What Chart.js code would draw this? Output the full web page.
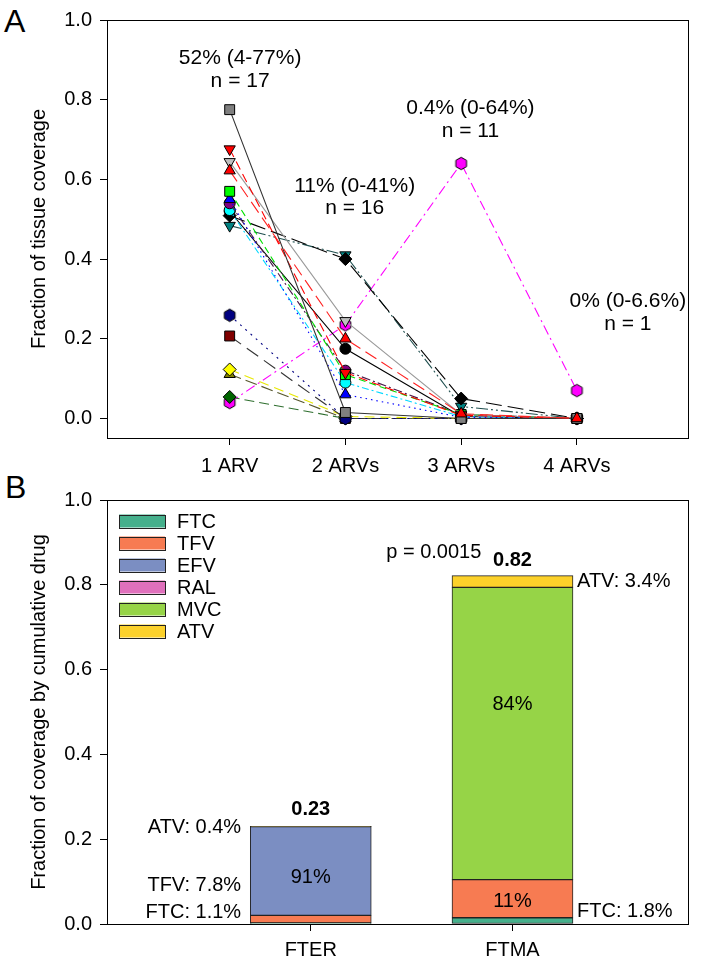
<!DOCTYPE html>
<html>
<head>
<meta charset="utf-8">
<title>ARV tissue coverage</title>
<script src="https://cdn.jsdelivr.net/npm/chart.js@4.4.0/dist/chart.umd.min.js"></script>
<style>
    body { margin: 0; background: #fff; font-family: 'Liberation Sans', Arial, sans-serif; }
    .panel { position: absolute; left: 0; width: 720px; }
    .letter { position: absolute; font-size: 32px; color: #000; line-height: 1; }
</style>
</head>
<body>
<div class="letter" style="left:4px; top:5px;">A</div>
<div class="letter" style="left:5px; top:471px;">B</div>
<div class="panel" style="top:0; height:480px;"><canvas id="chartA" width="720" height="480"></canvas></div>
<div class="panel" style="top:480px; height:482px;"><canvas id="chartB" width="720" height="482"></canvas></div>

<script>
// ---- Panel A data ----
const arvLabels = ['1 ARV', '2 ARVs', '3 ARVs', '4 ARVs'];
const arvPos = [1, 2, 3, 4];
const yTicksA = [0, 0.2, 0.4, 0.6, 0.8, 1.0];

const grayBox      = [0.775, 0.015, 0.0, 0.0];
const redDown      = [0.676, 0.115, 0.008, 0.0];
const grayDown     = [0.644, 0.245, 0.01, 0.0];
const redUp        = [0.622, 0.200, 0.012, 0.0];
const greenBox     = [0.570, 0.110, 0.01, 0.0];
const blueUp       = [0.550, 0.060, 0.003, 0.0];
const purpleDot    = [0.540, 0.120, 0.01, 0.0];
const cyanDot      = [0.523, 0.090, 0.005, 0.0];
const blackDot     = [0.520, 0.175, 0.005, 0.0];
const blackDiamond = [0.509, 0.400, 0.05, 0.0];
const tealDown     = [0.484, 0.410, 0.03, 0.0];
const navyHex      = [0.259, 0.0, 0.0, 0.0];
const maroonBox    = [0.207, 0.0, 0.0, 0.0];
const yellowDiamond = [0.123, 0.005, 0.0, 0.0];
const oliveUp      = [0.111, 0.0, 0.0, 0.0];
const greenDiamond = [0.054, 0.0, 0.0, 0.0];
const magentaHex   = [0.040, 0.235, 0.64, 0.07];

const notesA = [
    { text: '52% (4-77%)', x: 1.09, y: 0.904 },
    { text: 'n = 17', x: 1.09, y: 0.847 },
    { text: '11% (0-41%)', x: 2.08, y: 0.583 },
    { text: 'n = 16', x: 2.08, y: 0.527 },
    { text: '0.4% (0-64%)', x: 3.08, y: 0.778 },
    { text: 'n = 11', x: 3.08, y: 0.721 },
    { text: '0% (0-6.6%)', x: 4.44, y: 0.294 },
    { text: 'n = 1', x: 4.44, y: 0.237 }
];

// ---- Panel B data ----
const groupLabels = ['FTER', 'FTMA'];
const groupPos = [1, 2];
const drugNames = ['FTC', 'TFV', 'EFV', 'RAL', 'MVC', 'ATV'];
const ftcVals = [0.0025, 0.0148];
const tfvVals = [0.018, 0.090];
const efvVals = [0.209, 0.0];
const ralVals = [0.0, 0.0];
const mvcVals = [0.0, 0.689];
const atvVals = [0.0009, 0.028];
const yTicksB = [0, 0.2, 0.4, 0.6, 0.8, 1.0];

const notesB = [
    { text: '0.23', x: 1, y: 0.269, bold: true },
    { text: '0.82', x: 2, y: 0.857, bold: true },
    { text: '91%', x: 1, y: 0.11 },
    { text: '84%', x: 2, y: 0.518 },
    { text: '11%', x: 2, y: 0.052 },
    { text: 'ATV: 3.4%', x: 2.32, y: 0.808, align: 'left' },
    { text: 'FTC: 1.8%', x: 2.32, y: 0.03, align: 'left' },
    { text: 'ATV: 0.4%', x: 0.655, y: 0.227, align: 'right' },
    { text: 'TFV: 7.8%', x: 0.655, y: 0.091, align: 'right' },
    { text: 'FTC: 1.1%', x: 0.655, y: 0.028, align: 'right' },
    { text: 'p = 0.0015', x: 1.61, y: 0.877 }
];

const FONT = "'Liberation Sans', Arial, sans-serif";
Chart.defaults.font.family = FONT;
Chart.defaults.color = '#000';

function hexMarker(fill) {
    const c = document.createElement('canvas');
    c.width = 15; c.height = 15;
    const g = c.getContext('2d');
    g.beginPath();
    for (let k = 0; k < 6; k++) {
        const a = Math.PI / 2 + k * Math.PI / 3;
        const px = 7.5 + 6.2 * Math.cos(a), py = 7.5 + 6.2 * Math.sin(a);
        if (k === 0) g.moveTo(px, py); else g.lineTo(px, py);
    }
    g.closePath();
    g.fillStyle = fill;
    g.fill();
    g.strokeStyle = '#000';
    g.lineWidth = 1;
    g.stroke();
    return c;
}

const markerSize = { rect: 7, triangle: 6.5, circle: 5.5, rectRot: 6.5, hex: 6 };

const seriesA = [
    { vals: grayBox, marker: 'rect', fill: '#7f7f7f', line: '#333333', dash: [] },
    { vals: redDown, marker: 'triangle', rot: 180, fill: '#ff0000', line: '#ff0000', dash: [9, 5] },
    { vals: grayDown, marker: 'triangle', rot: 180, fill: '#c0c0c0', line: '#9a9a9a', dash: [] },
    { vals: redUp, marker: 'triangle', fill: '#ff0000', line: '#ff2020', dash: [13, 6], top: true },
    { vals: greenBox, marker: 'rect', fill: '#00ff00', line: '#00e000', dash: [7, 4] },
    { vals: blueUp, marker: 'triangle', fill: '#0000ff', line: '#0000ff', dash: [1.5, 4] },
    { vals: purpleDot, marker: 'circle', fill: '#800080', line: '#4b1a4b', dash: [9, 3, 2, 3] },
    { vals: cyanDot, marker: 'circle', fill: '#00ffff', line: '#00d8ff', dash: [7, 3, 2, 3] },
    { vals: blackDot, marker: 'circle', fill: '#000000', line: '#000000', dash: [] },
    { vals: blackDiamond, marker: 'rectRot', fill: '#000000', line: '#000000', dash: [16, 6] },
    { vals: tealDown, marker: 'triangle', rot: 180, fill: '#008080', line: '#1f4f4f', dash: [12, 3, 2, 3, 2, 3] },
    { vals: navyHex, marker: 'hex', fill: '#000080', line: '#000080', dash: [2, 5] },
    { vals: maroonBox, marker: 'rect', fill: '#800000', line: '#333333', dash: [14, 7] },
    { vals: yellowDiamond, marker: 'rectRot', fill: '#ffff00', line: '#e8e800', dash: [10, 6] },
    { vals: oliveUp, marker: 'triangle', fill: '#808000', line: '#55552a', dash: [12, 5] },
    { vals: greenDiamond, marker: 'rectRot', fill: '#006400', line: '#2f6f2f', dash: [10, 5] },
    { vals: magentaHex, marker: 'hex', fill: '#ff00ff', line: '#ff00ff', dash: [10, 4, 2, 4] }
];

// frame round the plot area
const framePlugin = {
    id: 'frame',
    afterDraw(chart) {
        const { ctx, chartArea: a } = chart;
        ctx.save();
        ctx.strokeStyle = '#000';
        ctx.lineWidth = 1;
        ctx.strokeRect(Math.round(a.left) + 0.5, Math.round(a.top) + 0.5,
            Math.round(a.right - a.left), Math.round(a.bottom - a.top));
        ctx.restore();
    }
};

// text notes placed through the chart scales
function notesPlugin(notes, size) {
    return {
        id: 'notes',
        afterDatasetsDraw(chart) {
            const { ctx, scales } = chart;
            ctx.save();
            ctx.fillStyle = '#000';
            ctx.textBaseline = 'middle';
            notes.forEach(n => {
                ctx.font = (n.bold ? 'bold ' : '') + size + 'px ' + FONT;
                ctx.textAlign = n.align || 'center';
                ctx.fillText(n.text, scales.x.getPixelForValue(n.x), scales.y.getPixelForValue(n.y));
            });
            ctx.restore();
        }
    };
}

// legend drawn inside the plot area, top left
const boxLegend = {
    id: 'boxLegend',
    afterDraw(chart) {
        const { ctx, chartArea: a } = chart;
        ctx.save();
        ctx.font = '20px ' + FONT;
        ctx.textAlign = 'left';
        ctx.textBaseline = 'middle';
        chart.data.datasets.forEach((ds, i) => {
            const cy = a.top + 21 + i * 22;
            const bx = a.left + 12;
            ctx.fillStyle = ds.backgroundColor;
            ctx.fillRect(bx, cy - 6.5, 46, 13);
            ctx.strokeStyle = '#222';
            ctx.lineWidth = 1;
            ctx.strokeRect(bx + 0.5, Math.round(cy - 6.5) + 0.5, 46, 13);
            ctx.fillStyle = '#000';
            ctx.fillText(ds.label, bx + 58, cy + 1);
        });
        ctx.restore();
    }
};

const tickFont = { size: 20 };

new Chart(document.getElementById('chartA'), {
    type: 'line',
    data: {
        datasets: seriesA.map(s => ({
            data: arvPos.map((x, i) => ({ x: x, y: s.vals[i] })),
            order: s.top ? -1 : 0,
            borderColor: s.line,
            borderWidth: 1.1,
            borderDash: s.dash,
            pointStyle: s.marker === 'hex' ? hexMarker(s.fill) : s.marker,
            pointRotation: s.rot || 0,
            pointRadius: markerSize[s.marker],
            pointBackgroundColor: s.fill,
            pointBorderColor: '#000',
            pointBorderWidth: 1,
            tension: 0,
            fill: false
        }))
    },
    options: {
        responsive: false,
        animation: false,
        devicePixelRatio: 1,
        layout: { padding: { top: 13, right: 32, left: 0, bottom: 0 } },
        plugins: { legend: { display: false }, tooltip: { enabled: false } },
        scales: {
            x: {
                type: 'linear',
                min: -0.06,
                max: 4.96,
                afterBuildTicks: s => { s.ticks = arvPos.map(v => ({ value: v })); },
                afterFit: s => { s.height = 42; },
                ticks: {
                    font: tickFont, color: '#000', padding: 9, maxRotation: 0,
                    callback: v => arvLabels[arvPos.indexOf(v)]
                },
                grid: { drawOnChartArea: false, drawTicks: true, tickLength: 7, color: '#000' },
                border: { color: '#000', width: 1 }
            },
            y: {
                min: -0.049,
                max: 1.0,
                afterBuildTicks: s => { s.ticks = yTicksA.map(v => ({ value: v })); },
                afterFit: s => { s.width = 107; },
                ticks: { font: tickFont, color: '#000', padding: 8, callback: v => v.toFixed(1) },
                grid: { drawOnChartArea: false, drawTicks: true, tickLength: 7, color: '#000' },
                border: { color: '#000', width: 1 },
                title: {
                    display: true, text: 'Fraction of tissue coverage',
                    font: { size: 20 }, color: '#000', padding: { top: 27, bottom: 0 }
                }
            }
        }
    },
    plugins: [framePlugin, notesPlugin(notesA, 21)]
});

const drugVals = [ftcVals, tfvVals, efvVals, ralVals, mvcVals, atvVals];
const drugColors = ['#45b08c', '#f77b52', '#7b8ec2', '#e070bc', '#96d447', '#fcd12a'];

new Chart(document.getElementById('chartB'), {
    type: 'bar',
    data: {
        datasets: drugNames.map((name, k) => ({
            label: name,
            data: groupPos.map((x, i) => ({ x: x, y: drugVals[k][i] || null })),
            backgroundColor: drugColors[k],
            borderColor: '#222',
            borderWidth: 1,
            borderSkipped: false,
            barThickness: 121
        }))
    },
    options: {
        responsive: false,
        animation: false,
        devicePixelRatio: 1,
        layout: { padding: { top: 17, right: 32, left: 0, bottom: 0 } },
        plugins: {
            tooltip: { enabled: false },
            legend: { display: false }
        },
        scales: {
            x: {
                type: 'linear',
                stacked: true,
                offset: false,
                min: -0.01,
                max: 2.87,
                afterBuildTicks: s => { s.ticks = groupPos.map(v => ({ value: v })); },
                afterFit: s => { s.height = 38; },
                ticks: {
                    font: tickFont, color: '#000', padding: 7, maxRotation: 0,
                    callback: v => groupLabels[groupPos.indexOf(v)]
                },
                grid: { offset: false, drawOnChartArea: false, drawTicks: true, tickLength: 7, color: '#000' },
                border: { color: '#000', width: 1 }
            },
            y: {
                stacked: true,
                min: 0,
                max: 1.0,
                afterBuildTicks: s => { s.ticks = yTicksB.map(v => ({ value: v })); },
                afterFit: s => { s.width = 107; },
                ticks: { font: tickFont, color: '#000', padding: 8, callback: v => v.toFixed(1) },
                grid: { drawOnChartArea: false, drawTicks: true, tickLength: 7, color: '#000' },
                border: { color: '#000', width: 1 },
                title: {
                    display: true, text: 'Fraction of coverage by cumulative drug',
                    font: { size: 20 }, color: '#000', padding: { top: 27, bottom: 0 }
                }
            }
        }
    },
    plugins: [framePlugin, boxLegend, notesPlugin(notesB, 20)]
});
</script>
</body>
</html>
